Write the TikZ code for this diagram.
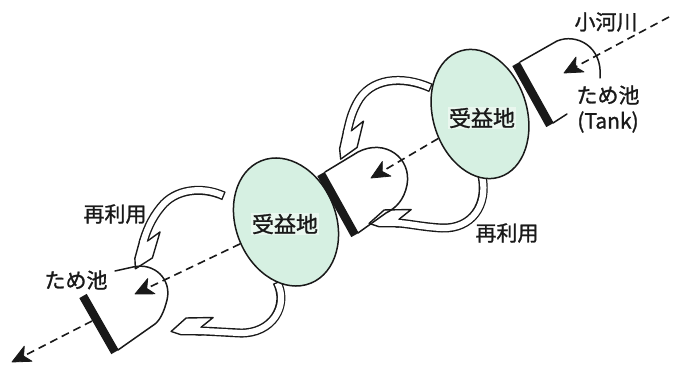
\documentclass[tikz,border=0pt]{standalone}
\usepackage{fontspec}
\newfontfamily\jp{Noto Sans CJK JP}[FakeBold=1.2]
\usetikzlibrary{shapes.geometric, decorations.markings, calc}
\definecolor{mint}{RGB}{214,240,226}
\definecolor{mintlight}{RGB}{234,247,239}
\definecolor{ink}{RGB}{25,25,25}

% hollow curved arrow: #1 = side of the barb (+1 left / -1 right of travel), #2 = path
\newcommand\harrow[2]{%
  \draw[hshaft] #2;
  \path[decorate, decoration={markings, mark=at position 0.999 with {%
      \draw[hhead, yscale=#1] (27pt,-0.5pt) -- (12pt,13pt) -- (-15pt,13.5pt) -- (-3pt,3.8pt)
        -- (-3pt,-3.8pt) -- (17pt,-3.8pt) -- cycle;}}] #2;
  \draw[hinner] #2;
}
% solid filled head of a stream segment: #1 tip, #2 point it comes from
\newcommand\flowhead[2]{%
  \filldraw[ink, line width=0.8pt, line join=round] #1 -- ($#1!20pt!25:#2$) -- ($#1!13pt!#2$) -- ($#1!20pt!-25:#2$) -- cycle;
}

\begin{document}
\begin{tikzpicture}[x=1pt, y=-1pt,
  hshaft/.style={ink, line width=9pt, line cap=butt},
  hinner/.style={white, line width=6.2pt, line cap=butt, shorten <=1.4pt},
  hhead/.style={draw=ink, fill=white, line width=1.4pt, line join=round},
  field/.style={ellipse, draw=ink, line width=1.5pt, fill=mint, inner sep=0pt},
  dam/.style={ink, line width=8.5pt, line cap=butt},
  pond/.style={ink, line width=1.5pt, line join=round, line cap=round},
  flow/.style={ink, line width=1.6pt, dash pattern=on 8pt off 5pt},
  lbl/.style={font=\jp\fontsize{21}{24}\selectfont, text=ink, inner sep=0pt},
  fieldlbl/.style={font=\jp\fontsize{22}{24}\selectfont, text=ink, inner sep=1pt, fill=mintlight}
]
\useasboundingbox (0,0) rectangle (673,367);
\fill[white] (0,0) rectangle (673,367);

% ---- reuse arrows (hollow) ----
\harrow{1}{(431,88) .. controls (402,75) and (370,78) .. (357,103) .. controls (351,114) and (349,124) .. (347,133)}
\harrow{-1}{(482,176) .. controls (488,205) and (472,229) .. (442,228) .. controls (422,227) and (406,223) .. (396,223)}
\harrow{1}{(224,196) .. controls (202,186) and (175,189) .. (161,207) .. controls (151,219) and (146,232) .. (143,243)}
\harrow{-1}{(277,282) .. controls (289,306) and (272,334) .. (240,333) .. controls (220,332) and (206,331) .. (198,331)}

% ---- beneficiary fields ----
\node[field, minimum width=94pt, minimum height=132pt, rotate=17] (E1) at (480,114) {};
\node[field, minimum width=100pt, minimum height=132pt, rotate=22] (E2) at (286,222) {};
\node[fieldlbl] (L1) at (482,118) {受益地};
\node[fieldlbl] (L2) at (285,224) {受益地};

% ---- ponds (tanks) ----
\draw[dam] (516,64) -- (550,125);
\draw[pond] (520,62) -- (557,41) .. controls (576,33) and (603,46) .. (600,78);
\draw[pond] (553,123) -- (567,114);

\draw[dam] (321,174) -- (355,235);
\draw[pond] (325,172) -- (358,152) .. controls (385,138) and (412,158) .. (407,185)
  .. controls (404,200) and (396,208) .. (386,213) -- (358,233);

\draw[dam] (83,296) -- (115,352);
\draw[pond] (115,271) -- (133,267) .. controls (155,262) and (172,280) .. (167,300)
  .. controls (164,312) and (160,320) .. (155,324) -- (118,350);

% ---- stream (dashed flow) ----
\coordinate (s0) at (669,17);
\coordinate (t1) at (564,73);
\coordinate (t2) at (371,178);
\coordinate (t3) at (135,294);
\coordinate (s4) at (92,321);
\coordinate (t4) at (12,362);
\draw[flow] (s0) -- ($(t1)!13pt!(s0)$);
\flowhead{(t1)}{(s0)}
\draw[flow] (E1) -- ($(t2)!13pt!(E1.center)$);
\flowhead{(t2)}{(E1.center)}
\draw[flow] (E2) -- ($(t3)!13pt!(E2.center)$);
\flowhead{(t3)}{(E2.center)}
\draw[flow] (s4) -- ($(t4)!13pt!(s4)$);
\flowhead{(t4)}{(s4)}

% ---- labels ----
\node[lbl] (river) at (606,22) {小河川};
\node[lbl] (tank1) at (608,95) {ため池};
\node[lbl] (tank1e) at (608,122) {(Tank)};
\node[lbl] (reuse1) at (507,233) {再利用};
\node[lbl] (reuse2) at (115,214) {再利用};
\node[lbl] (tank3) at (76,280) {ため池};
\end{tikzpicture}
\end{document}
